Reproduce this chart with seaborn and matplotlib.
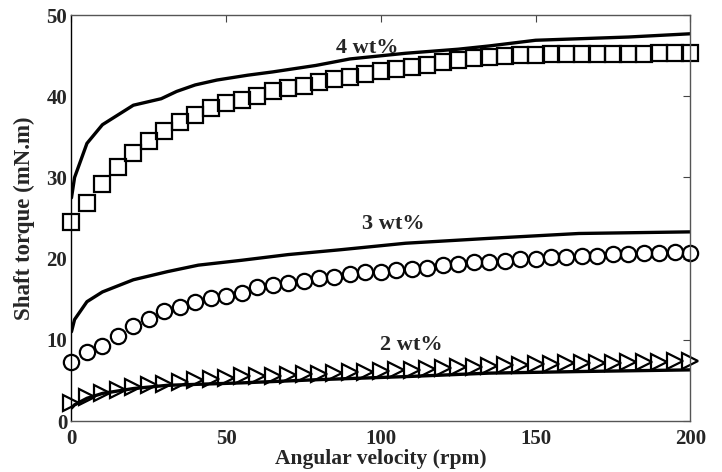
import matplotlib
matplotlib.use("Agg")
import matplotlib.pyplot as plt
import seaborn as sns
import numpy as np

# measured points (markers), every 5 rpm
rpm_pts = np.arange(0, 205, 5)
torque_4_pts = [24.5, 26.9, 29.2, 31.3, 33.0, 34.5, 35.7, 36.8, 37.7, 38.5,
                39.2, 39.6, 40.0, 40.7, 41.0, 41.3, 41.7, 42.1, 42.4, 42.8,
                43.1, 43.4, 43.6, 43.9, 44.2, 44.5, 44.7, 44.8, 45.0, 45.1,
                45.1, 45.2, 45.2, 45.2, 45.2, 45.2, 45.2, 45.2, 45.3, 45.3, 45.3]
torque_3_pts = [7.3, 8.5, 9.3, 10.5, 11.7, 12.6, 13.5, 14.0, 14.6, 15.1,
                15.4, 15.8, 16.5, 16.7, 17.0, 17.3, 17.6, 17.8, 18.1, 18.3,
                18.4, 18.6, 18.7, 18.9, 19.2, 19.4, 19.6, 19.6, 19.7, 19.9,
                20.0, 20.2, 20.2, 20.3, 20.3, 20.6, 20.6, 20.7, 20.7, 20.8, 20.7]
torque_2_pts = [2.2, 3.0, 3.4, 3.8, 4.2, 4.4, 4.6, 4.8, 5.0, 5.2,
                5.3, 5.5, 5.6, 5.6, 5.7, 5.8, 5.8, 5.9, 6.0, 6.1,
                6.2, 6.3, 6.3, 6.4, 6.5, 6.6, 6.7, 6.8, 6.9, 6.9,
                7.0, 7.0, 7.1, 7.1, 7.2, 7.2, 7.3, 7.3, 7.3, 7.4, 7.4]

# model curves (solid lines)
rpm_4_line = [0, 1, 5, 10, 15, 20, 29, 34, 40, 47, 57, 65, 79, 90, 108, 125, 135, 150, 165, 180, 200]
torque_4_line = [27.5, 30.0, 34.2, 36.5, 37.7, 38.9, 39.7, 40.6, 41.4, 42.0, 42.6, 43.0, 43.8,
                 44.6, 45.3, 45.8, 46.2, 46.9, 47.1, 47.3, 47.7]
rpm_3_line = [0, 1, 5, 10, 20, 31, 41, 55, 70, 87, 108, 135, 164, 200]
torque_3_line = [11.0, 12.5, 14.7, 15.9, 17.4, 18.4, 19.2, 19.8, 20.5, 21.1, 21.9, 22.5, 23.1, 23.3]
rpm_2_line = [0, 1, 5, 10, 20, 31, 55, 80, 110, 135, 165, 200]
torque_2_line = [1.6, 2.0, 2.8, 3.4, 4.0, 4.4, 4.7, 5.1, 5.5, 5.9, 6.1, 6.3]

labels = ["4 wt%", "3 wt%", "2 wt%"]
label_pos = [(95.5, 46.0), (104, 24.3), (110, 9.4)]

sns.set_style("white")
plt.rcParams['font.family'] = ['Liberation Serif', 'DejaVu Serif']

fig = plt.figure(figsize=(7.22, 4.72), dpi=100)
ax = fig.add_axes([0.099, 0.108, 0.857, 0.86])

for xl, yl in [(rpm_4_line, torque_4_line), (rpm_3_line, torque_3_line), (rpm_2_line, torque_2_line)]:
    sns.lineplot(x=xl, y=yl, ax=ax, color="black", linewidth=2.4, sort=False)

for yp, mk in [(torque_4_pts, "s"), (torque_3_pts, "o"), (torque_2_pts, ">")]:
    sns.lineplot(x=rpm_pts, y=yp, ax=ax, marker=mk, linestyle="", markersize=11,
                 markerfacecolor="none", markeredgecolor="black", markeredgewidth=1.6,
                 clip_on=False, sort=False)

for txt, (tx, ty) in zip(labels, label_pos):
    ax.text(tx, ty, txt, fontsize=16, fontweight="bold", ha="center", va="center")

ax.set_xlim(0, 200)
ax.set_ylim(0, 50)
ax.set_xticks([0, 50, 100, 150, 200])
ax.set_yticks([0, 10, 20, 30, 40, 50])
ax.tick_params(direction="in", length=5, width=0.8, top=True, right=True,
               labelsize=15, color="#444444")
ax.tick_params(axis="x", pad=6)
ax.tick_params(axis="y", pad=3)
for lab in ax.get_xticklabels() + ax.get_yticklabels():
    lab.set_fontweight("bold")
for side, sp in ax.spines.items():
    sp.set_visible(True)
    sp.set_linewidth(1.0)
    sp.set_color("#555555")
ax.spines["left"].set_color("black")

ax.set_xlabel("Angular velocity (rpm)", fontsize=15.5, fontweight="bold", labelpad=0)
ax.set_ylabel("Shaft torque (mN.m)", fontsize=16.5, fontweight="bold", labelpad=8)

fig.savefig("out.png", dpi=100)
